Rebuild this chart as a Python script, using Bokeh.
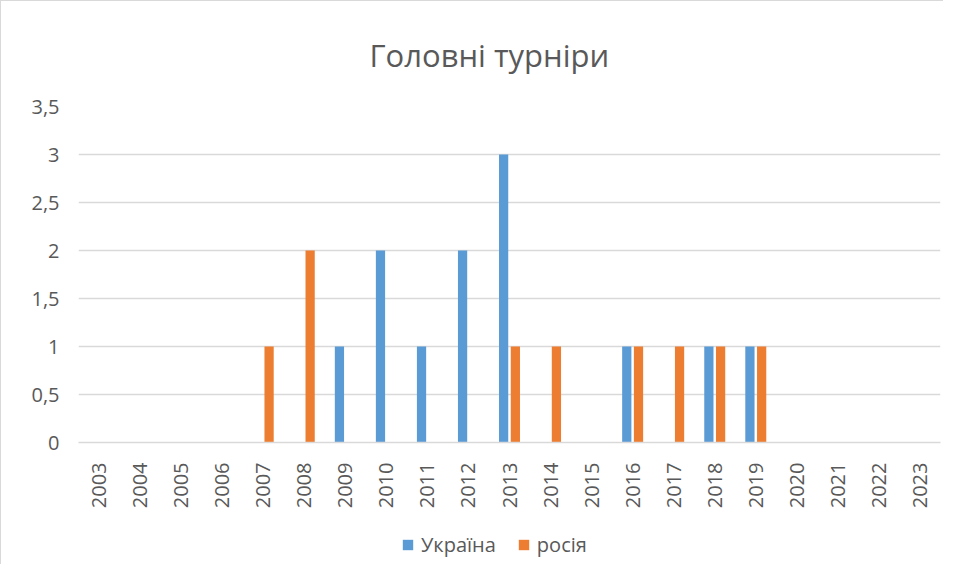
from bokeh.plotting import figure
from bokeh.models import ColumnDataSource, FactorRange, Legend, LegendItem, FixedTicker
from bokeh.layouts import column
from bokeh.transform import dodge
from bokeh.embed import file_html
from bokeh.resources import INLINE
import math

years = [str(y) for y in range(2003, 2024)]
ukraine = [0, 0, 0, 0, 0, 0, 1, 2, 1, 2, 3, 0, 0, 1, 0, 1, 1, 0, 0, 0, 0]
russia = [0, 0, 0, 0, 1, 2, 0, 0, 0, 0, 1, 1, 0, 1, 1, 1, 1, 0, 0, 0, 0]
y_ticks = [0, 0.5, 1, 1.5, 2, 2.5, 3, 3.5]
y_labels = ["0", "0,5", "1", "1,5", "2", "2,5", "3", "3,5"]
series_names = ["Україна", "росія"]
colors = ["#5B9BD5", "#ED7D31"]

src = ColumnDataSource(data=dict(year=years, ua=ukraine, ru=russia))

FONT = "Open Sans"
GRAY = "#595959"

p = figure(width=943, height=510, x_range=FactorRange(*years), y_range=(0, 3.5),
           output_backend="svg", toolbar_location=None,
           title="Головні турніри", min_border_left=77, min_border_right=4,
           min_border_top=105, min_border_bottom=60)
p.styles = {"border-left": "1px solid #d9d9d9", "border-top": "1px solid #d9d9d9"}
p.outline_line_color = None
p.title.align = "left"
p.title.text_font = FONT
p.title.text_font_size = "31px"
p.title.text_font_style = "normal"
p.title.text_color = GRAY
p.title.offset = 291
p.title.standoff = 61
p.x_range.range_padding = 0

r1 = p.vbar(x=dodge('year', -0.143, range=p.x_range), top='ua', width=0.225, source=src,
            color=colors[0], line_color=None)
r2 = p.vbar(x=dodge('year', 0.143, range=p.x_range), top='ru', width=0.225, source=src,
            color=colors[1], line_color=None)

p.xgrid.grid_line_color = None
p.ygrid.grid_line_color = "#d9d9d9"
p.ygrid.grid_line_width = 1.5
p.yaxis.ticker = FixedTicker(ticks=y_ticks)
p.yaxis.major_label_overrides = {t: l for t, l in zip(y_ticks, y_labels)}
for ax in (p.xaxis, p.yaxis):
    ax.major_tick_line_color = None
    ax.minor_tick_line_color = None
    ax.major_label_text_font = FONT
    ax.major_label_text_font_size = "20px"
    ax.major_label_text_color = GRAY
p.yaxis.axis_line_color = None
p.xaxis.axis_line_color = "#d9d9d9"
p.xaxis.axis_line_width = 1.5
p.xaxis.major_label_orientation = math.pi / 2
p.xaxis.major_label_standoff = 14
p.yaxis.major_label_standoff = 13

# legend strip (separate figure so the legend is not clipped);
# its bars sit far outside its y range, so only the legend shows
lg = figure(width=943, height=54, output_backend="svg", toolbar_location=None,
            min_border_left=17, min_border_right=0, min_border_top=0, min_border_bottom=0,
            x_range=FactorRange(*years), y_range=(100, 101))
lg.styles = {"border-left": "1px solid #d9d9d9"}
lg.axis.visible = False
lg.grid.visible = False
lg.outline_line_color = None
l1 = lg.vbar(x='year', top='ua', width=0.2, source=src, color=colors[0], line_color=None)
l2 = lg.vbar(x='year', top='ru', width=0.2, source=src, color=colors[1], line_color=None)

legend = Legend(items=[LegendItem(label=series_names[0], renderers=[l1]),
                       LegendItem(label=series_names[1], renderers=[l2])],
                orientation="horizontal", location=(323, 6))
legend.border_line_color = None
legend.background_fill_alpha = 0
legend.label_text_font = FONT
legend.label_text_font_size = "20px"
legend.label_text_color = GRAY
legend.glyph_width = 13
legend.glyph_height = 13
legend.spacing = 21
legend.label_standoff = 7
legend.padding = 0
legend.margin = 0
lg.add_layout(legend, "center")

layout = column(p, lg, spacing=0)
open("out.html", "w").write(file_html(layout, INLINE))
